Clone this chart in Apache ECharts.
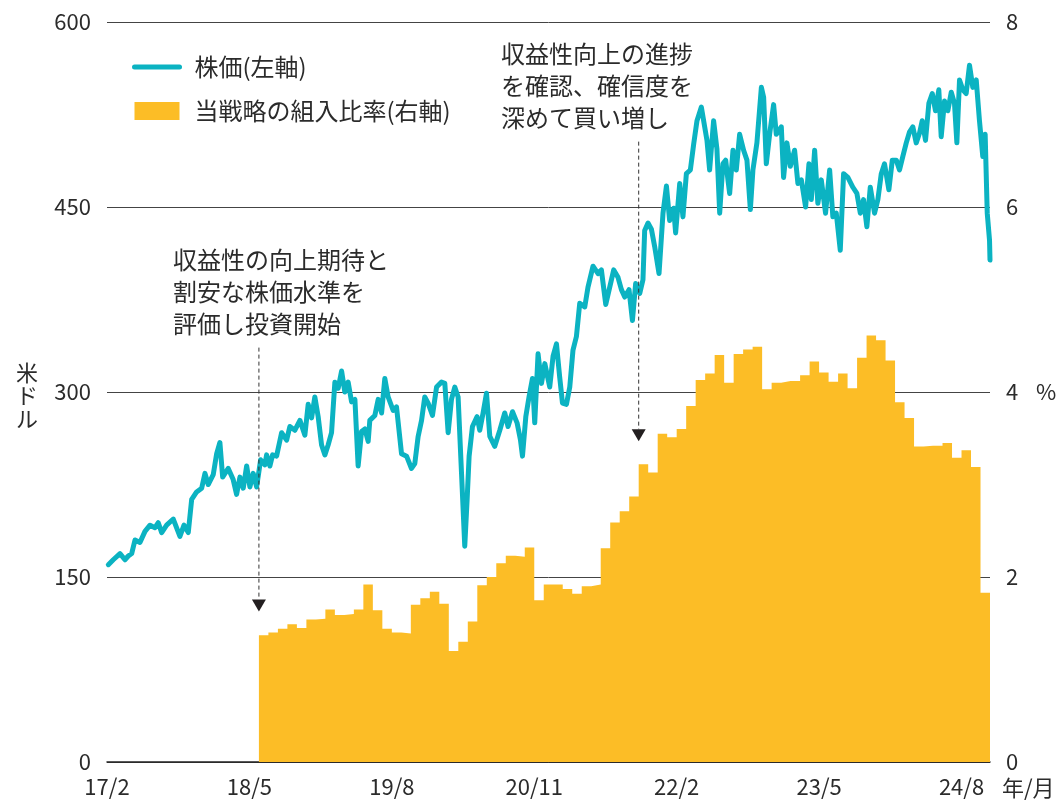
<!DOCTYPE html>
<html>
<head>
<meta charset="utf-8">
<script src="https://cdn.jsdelivr.net/npm/echarts@6/dist/echarts.min.js"></script>
<style>
  html, body { margin: 0; padding: 0; background: #fff; }
  #chart { width: 1057px; height: 800px; }
</style>
</head>
<body>
<div id="chart"></div>
<script>
// x runs in months counted from 2017/2 (0) to the end of 2024/10 (93)
const xTickLabels = ['17/2', '18/5', '19/8', '20/11', '22/2', '23/5', '24/8'];
const tickStep = 15;
const monthCount = 93;

// 当戦略の組入比率 (%), monthly, first month is 2018/6 (month 16)
const allocStart = 16;
const allocation = [
  1.37, 1.40, 1.44, 1.49, 1.45, 1.54, 1.55, 1.65, 1.59, 1.60, 1.65, 1.92, 1.64, 1.44,
  1.40, 1.39, 1.70, 1.77, 1.84, 1.71, 1.20, 1.30, 1.52, 1.91, 2.00, 2.15, 2.23, 2.22,
  2.32, 1.75, 1.92, 1.92, 1.87, 1.82, 1.90, 1.92, 2.31, 2.59, 2.71, 2.87, 3.22, 3.13,
  3.55, 3.51, 3.60, 3.85, 4.13, 4.20, 4.40, 4.10, 4.41, 4.46, 4.49, 4.03, 4.10, 4.12,
  4.12, 4.18, 4.33, 4.21, 4.11, 4.20, 4.04, 4.37, 4.61, 4.56, 4.34, 3.89, 3.72, 3.41,
  3.42, 3.42, 3.45, 3.29, 3.37, 3.19, 1.83
];

// 株価 (USD): [month, price]
const price = [
  [0.14,160],[0.66,164],[1.37,169],[1.89,164],[2.24,167],[2.60,169],[2.95,180],[3.47,178],
  [4.00,187],[4.53,192],[5.05,190],[5.40,194],[5.76,186],[6.28,192],[6.98,197],[7.68,183],
  [8.11,192],[8.56,186],[8.92,213],[9.44,219],[9.97,222],[10.32,234],[10.66,225],[11.19,233],
  [11.55,250],[11.89,259],[12.18,231],[12.77,238],[13.29,229],[13.65,217],[14.00,231],[14.35,222],
  [14.71,240],[15.05,223],[15.40,234],[15.76,223],[16.18,245],[16.63,241],[16.81,249],[17.16,240],
  [17.44,249],[17.86,248],[18.39,267],[18.92,261],[19.26,272],[19.79,269],[20.32,277],[20.84,265],
  [21.19,290],[21.55,279],[21.89,296],[22.24,280],[22.60,257],[22.95,249],[23.29,257],[23.65,267],
  [24.00,308],[24.35,303],[24.71,317],[25.05,300],[25.40,308],[25.76,292],[26.11,294],[26.45,240],
  [26.81,268],[27.16,270],[27.51,260],[27.68,277],[28.21,281],[28.56,294],[28.92,283],[29.26,311],
  [29.61,296],[30.14,285],[30.49,288],[31.02,250],[31.55,248],[32.07,238],[32.42,242],[32.77,264],
  [33.13,277],[33.47,296],[33.82,291],[34.28,281],[34.71,304],[35.23,308],[35.58,307],[35.93,267],
  [36.28,294],[36.63,304],[36.98,296],[37.34,234],[37.68,175],[37.93,213],[38.14,248],[38.49,272],
  [38.98,280],[39.26,269],[39.61,283],[39.97,299],[40.32,264],[40.84,256],[41.37,269],[41.89,283],
  [42.24,272],[42.71,284],[43.19,275],[43.55,261],[43.76,248],[44.11,280],[44.45,296],[44.81,311],
  [45.05,275],[45.40,331],[45.76,307],[46.11,323],[46.63,304],[46.98,329],[47.34,339],[47.68,312],
  [47.97,291],[48.39,290],[48.74,304],[49.08,334],[49.44,345],[49.79,372],[50.32,369],[50.66,385],
  [51.19,402],[51.72,396],[52.07,399],[52.53,371],[52.95,385],[53.37,399],[53.82,393],[54.18,383],
  [54.53,377],[54.98,383],[55.34,358],[55.68,388],[56.11,380],[56.45,391],[56.63,431],[56.98,437],
  [57.34,432],[57.68,418],[58.14,396],[58.56,445],[58.92,467],[59.26,439],[59.68,449],[59.89,429],
  [60.32,469],[60.66,442],[61.02,477],[61.44,480],[61.79,501],[62.14,520],[62.60,531],[62.95,515],
  [63.19,504],[63.47,480],[63.89,520],[64.24,497],[64.53,445],[64.87,485],[65.16,488],[65.40,472],
  [65.58,461],[65.93,496],[66.28,480],[66.63,509],[67.05,496],[67.40,488],[67.76,448],[68.03,480],
  [68.45,502],[68.92,547],[69.16,539],[69.44,485],[69.79,509],[70.21,533],[70.49,509],[71.02,515],
  [71.26,474],[71.61,502],[71.97,483],[72.42,496],[72.77,469],[73.13,472],[73.58,450],[73.93,485],
  [74.18,456],[74.53,496],[74.87,453],[75.23,472],[75.68,445],[76.11,480],[76.45,442],[76.81,445],
  [77.23,415],[77.58,477],[78.03,474],[78.56,466],[78.98,461],[79.34,445],[79.68,456],[80.03,434],
  [80.39,466],[80.84,445],[81.19,456],[81.55,477],[81.89,485],[82.35,464],[82.71,488],[83.13,488],
  [83.47,480],[83.82,491],[84.18,502],[84.53,511],[84.87,515],[85.23,502],[85.58,510],[85.86,520],
  [86.21,504],[86.56,534],[86.92,542],[87.26,528],[87.61,545],[87.86,507],[88.21,536],[88.56,528],
  [88.92,543],[89.26,534],[89.51,502],[89.79,553],[90.14,545],[90.49,542],[90.84,565],[91.19,547],
  [91.55,553],[91.89,520],[92.24,491],[92.49,509],[92.71,445],[92.95,423],[93.00,407]
];

// annotation arrows: month, top and tip in price units
const arrows = [
  { t: 16, from: 336, to: 122 },
  { t: 56, from: 503, to: 260 }
];
const notes = [
  { x: 173, y: 244, text: '収益性の向上期待と\n割安な株価水準を\n評価し投資開始' },
  { x: 501, y: 38, text: '収益性向上の進捗\nを確認、確信度を\n深めて買い増し' }
];

const FONT = '"Noto Sans CJK JP", "Noto Sans", sans-serif';
const TEXT = '#2b2b2b';
const TEAL = '#0bb3c2';
const GOLD = '#fcbd26';

// each month's allocation holds from the start of the month to the next one
const allocSteps = allocation.map((v, i) => [allocStart + i, v]);
allocSteps.push([monthCount, allocation[allocation.length - 1]]);

const chart = echarts.init(document.getElementById('chart'), null, { renderer: 'canvas' });

chart.setOption({
  animation: false,
  backgroundColor: '#fff',
  textStyle: { fontFamily: FONT },
  grid: { left: 107, right: 67, top: 22, bottom: 38 },
  legend: {
    orient: 'vertical',
    left: 127,
    top: 50,
    itemWidth: 45,
    itemHeight: 18,
    itemGap: 20,
    textStyle: { fontSize: 24, color: TEXT, fontFamily: FONT, padding: [0, 0, 0, 10] },
    data: [
      { name: '株価(左軸)', itemStyle: { opacity: 0 }, lineStyle: { width: 5, cap: 'round' } },
      { name: '当戦略の組入比率(右軸)', icon: 'rect', itemStyle: { color: GOLD } }
    ]
  },
  xAxis: {
    type: 'value',
    min: 0,
    max: monthCount,
    interval: tickStep,
    axisLine: { show: true, lineStyle: { color: '#222', width: 1.5 } },
    axisTick: { show: false },
    splitLine: { show: false },
    axisLabel: {
      fontSize: 22, color: TEXT, fontFamily: FONT, margin: 14,
      formatter: v => (v % tickStep === 0 ? xTickLabels[v / tickStep] || '' : '')
    }
  },
  yAxis: [
    {
      type: 'value',
      min: 0, max: 600, interval: 150,
      position: 'left',
      axisLine: { show: false },
      axisTick: { show: false },
      splitLine: { lineStyle: { color: '#444', width: 1 } },
      axisLabel: { fontSize: 22, color: TEXT, fontFamily: FONT, margin: 16 }
    },
    {
      type: 'value',
      min: 0, max: 8, interval: 2,
      position: 'right',
      axisLine: { show: false },
      axisTick: { show: false },
      splitLine: { show: false },
      axisLabel: { fontSize: 22, color: TEXT, fontFamily: FONT, margin: 16 }
    }
  ],
  series: [
    {
      name: '当戦略の組入比率(右軸)',
      type: 'line',
      yAxisIndex: 1,
      data: allocSteps,
      step: 'end',
      showSymbol: false,
      symbol: 'none',
      lineStyle: { width: 0, color: GOLD },
      itemStyle: { color: GOLD },
      areaStyle: { color: GOLD, opacity: 1 },
      z: 2
    },
    {
      name: '株価(左軸)',
      type: 'line',
      yAxisIndex: 0,
      data: price,
      showSymbol: false,
      symbol: 'none',
      lineStyle: { color: TEAL, width: 5, cap: 'round', join: 'round' },
      itemStyle: { color: TEAL },
      z: 3
    }
  ]
});

const graphics = [];
arrows.forEach(a => {
  const top = chart.convertToPixel({ xAxisIndex: 0, yAxisIndex: 0 }, [a.t, a.from]);
  const tip = chart.convertToPixel({ xAxisIndex: 0, yAxisIndex: 0 }, [a.t, a.to]);
  graphics.push({
    type: 'line',
    shape: { x1: top[0], y1: top[1], x2: tip[0], y2: tip[1] - 12 },
    style: { stroke: '#333', lineWidth: 1, lineDash: [4, 3] },
    z: 10
  });
  graphics.push({
    type: 'polygon',
    shape: { points: [[tip[0] - 7, tip[1] - 12], [tip[0] + 7, tip[1] - 12], [tip[0], tip[1]]] },
    style: { fill: '#231f20' },
    z: 10
  });
});
notes.forEach(n => {
  graphics.push({
    type: 'text',
    x: n.x, y: n.y,
    style: { text: n.text, font: '24px ' + FONT, fill: TEXT, lineHeight: 32, verticalAlign: 'top' },
    z: 10
  });
});
graphics.push(
  { type: 'text', x: 27, y: 361, style: { text: '米\nド\nル', font: '22px ' + FONT, fill: TEXT, align: 'center', lineHeight: 23, verticalAlign: 'top' } },
  { type: 'text', x: 1036, y: 392, style: { text: '%', font: '22px ' + FONT, fill: TEXT, verticalAlign: 'middle' } },
  { type: 'text', x: 1002, y: 788, style: { text: '年/月', font: '22px ' + FONT, fill: TEXT, verticalAlign: 'middle' } }
);
chart.setOption({ graphic: graphics });
</script>
</body>
</html>
